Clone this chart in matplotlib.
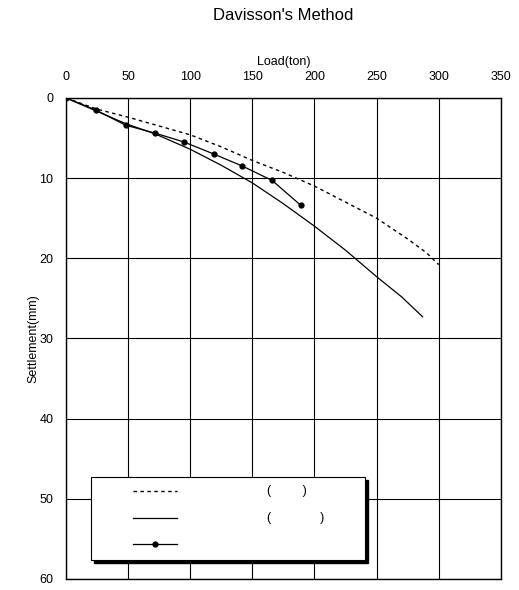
import numpy as np
from matplotlib import pyplot as plt
import matplotlib as mpl
from matplotlib.patches import Rectangle
from matplotlib.lines import Line2D

# dashed curve
load_a = [0, 25, 50, 75, 100, 125, 150, 175, 200, 225, 250, 275, 290, 300]
settle_a = [0, 1.4, 2.4, 3.5, 4.6, 6.1, 7.8, 9.3, 11.0, 13.0, 15.0, 17.6, 19.3, 20.8]

# solid curve
load_b = [0, 24, 48, 72, 100, 125, 150, 175, 200, 225, 250, 270, 287]
settle_b = [0, 1.6, 3.2, 4.5, 6.4, 8.4, 10.6, 13.2, 16.0, 19.0, 22.3, 24.8, 27.3]

# measured points
load_c = [0, 24, 48, 72, 95, 119, 142, 166, 189]
settle_c = [0, 1.5, 3.4, 4.4, 5.5, 7.0, 8.5, 10.3, 13.4]

xticks = [0, 50, 100, 150, 200, 250, 300, 350]
yticks = [0, 10, 20, 30, 40, 50, 60]


def set_mpl():
    mpl.rcParams.update({
        'font.family': ['Liberation Sans', 'DejaVu Sans'],
        'font.size': 9,
        'axes.linewidth': 1.0,
    })


def plot_figure():
    set_mpl()
    fig = plt.figure(figsize=(5.19, 5.90), dpi=100)
    ax = fig.add_axes([0.127, 0.019, 0.838, 0.815])

    ax.plot(load_a, settle_a, color='black', lw=1.0, linestyle=(0, (2.5, 2.5)), zorder=3)
    ax.plot(load_b, settle_b, color='black', lw=0.9, zorder=3)
    ax.plot(load_c, settle_c, color='black', lw=0.9, marker='o', markersize=3.5, zorder=4)

    ax.set_xlim(0, 350)
    ax.set_ylim(60, 0)
    ax.set_xticks(xticks)
    ax.set_yticks(yticks)
    ax.xaxis.tick_top()
    ax.xaxis.set_label_position('top')
    ax.tick_params(length=0, labelsize=9)
    ax.tick_params(axis='x', pad=11)
    ax.tick_params(axis='y', pad=9)
    ax.grid(True, color='black', linewidth=0.8, zorder=0)

    ax.set_xlabel('Load(ton)', fontsize=9, labelpad=4)
    ax.set_ylabel('Settlement(mm)', fontsize=9, labelpad=0)
    ax.set_title("Davisson's Method", fontsize=12, y=1.172, va='center', pad=0)

    # legend box with shadow
    x0, y0, w, h = 0.057, 0.04, 0.63, 0.172
    tr = ax.transAxes
    ax.add_patch(Rectangle((x0 + 0.008, y0 - 0.007), w, h, transform=tr,
                           facecolor='black', edgecolor='black', zorder=5))
    ax.add_patch(Rectangle((x0, y0), w, h, transform=tr, facecolor='white',
                           edgecolor='black', lw=0.8, zorder=6))
    rows = [0.183, 0.127, 0.073]
    hx = [0.154, 0.255]
    ax.add_line(Line2D(hx, [rows[0]] * 2, transform=tr, color='black', lw=1.0,
                       linestyle=(0, (2.5, 2.5)), zorder=7))
    ax.add_line(Line2D(hx, [rows[1]] * 2, transform=tr, color='black', lw=0.9, zorder=7))
    ax.add_line(Line2D(hx, [rows[2]] * 2, transform=tr, color='black', lw=0.9, zorder=7))
    ax.add_line(Line2D([sum(hx) / 2], [rows[2]], transform=tr, color='black',
                       marker='o', markersize=3.5, zorder=8))
    ax.text(0.462, rows[0], '(         )', transform=tr, va='center', ha='left',
            fontsize=9, zorder=8)
    ax.text(0.462, rows[1], '(              )', transform=tr, va='center', ha='left',
            fontsize=9, zorder=8)

    plt.savefig('out.png', dpi=100)


if __name__ == "__main__":
    plot_figure()
